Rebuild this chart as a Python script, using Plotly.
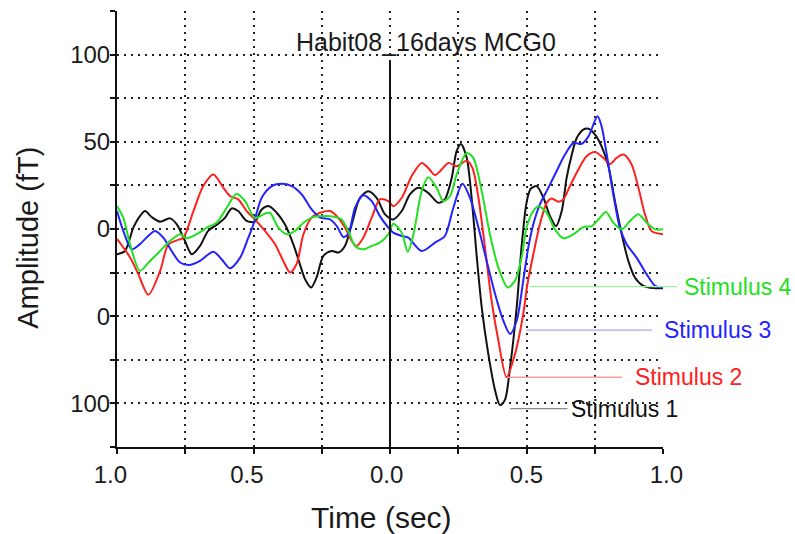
import plotly.graph_objects as go

# ---- data ----
t_s1 = [-1.0,-0.971,-0.94,-0.916,-0.897,-0.873,-0.842,-0.806,-0.781,-0.751,-0.726,-0.696,-0.666,-0.629,-0.604,-0.58,-0.556,-0.525,-0.495,-0.47,-0.443,-0.415,-0.385,-0.354,-0.33,-0.311,-0.289,-0.269,-0.244,-0.214,-0.189,-0.165,-0.14,-0.11,-0.079,-0.049,-0.018,0.012,0.043,0.073,0.104,0.14,0.177,0.201,0.226,0.244,0.26,0.281,0.299,0.317,0.336,0.36,0.385,0.403,0.421,0.44,0.464,0.482,0.5,0.515,0.537,0.562,0.586,0.608,0.629,0.647,0.666,0.684,0.708,0.727,0.751,0.775,0.8,0.824,0.849,0.873,0.897,0.928,0.965,1.0]
v_s1 = [-14.5,-12.6,0.8,7.4,10.3,6.9,4.2,6.1,2.7,-6.9,-14.5,-9.7,-1.1,3,6.5,11.8,10.3,4.6,4.2,11.2,13.1,9.3,2.7,-8.8,-20.2,-28.8,-33.5,-27.8,-15.4,-12.6,-13.5,-9.7,2.7,17.9,21.7,17.9,8.4,5.5,10.3,19.8,23.6,20.7,15,17,29.3,44.6,48.8,40.8,17.9,-14.5,-45,-71.6,-92.6,-101,-98,-79,-45,-10,15,23,24.6,17.9,7.4,1.7,10.3,29.3,42.7,52.2,57,57.5,54.1,47.4,36,16,-3,-18.3,-27.8,-32.6,-33.9,-34]

t_s2 = [-1.0,-0.952,-0.922,-0.885,-0.842,-0.812,-0.781,-0.757,-0.72,-0.684,-0.647,-0.61,-0.586,-0.556,-0.525,-0.495,-0.458,-0.421,-0.391,-0.366,-0.342,-0.317,-0.287,-0.256,-0.22,-0.195,-0.165,-0.14,-0.122,-0.098,-0.067,-0.037,-0.006,0.012,0.043,0.079,0.116,0.14,0.165,0.189,0.214,0.244,0.281,0.302,0.324,0.348,0.372,0.397,0.427,0.458,0.488,0.503,0.525,0.549,0.574,0.592,0.617,0.635,0.659,0.69,0.72,0.751,0.781,0.806,0.83,0.855,0.885,0.91,0.934,0.958,1.0]
v_s2 = [-5.7,-16.4,-25.9,-37.7,-24,-8.8,-6.5,-5,10.3,24.6,31.2,23.6,18.9,17,10.3,5.5,-1.1,-8.7,-18.3,-25,-20,-3,6.5,9.3,10.3,7.4,0.8,-6.9,-9.7,-5,6.5,17,16,13.1,17.9,30.3,37.9,35,30.9,34.1,37.9,36,39.2,35,17.9,-10.7,-41,-64,-85,-71.6,-48.8,-32,-14.5,2.7,15,17.5,15.6,17,24.6,34.1,41.7,44.2,40.8,37.3,40.8,42.7,37,23.6,8.4,-1.1,-3]

t_s3 = [-1.0,-0.977,-0.946,-0.916,-0.861,-0.83,-0.8,-0.769,-0.733,-0.696,-0.647,-0.617,-0.586,-0.549,-0.519,-0.5,-0.47,-0.433,-0.397,-0.36,-0.323,-0.287,-0.256,-0.22,-0.195,-0.171,-0.153,-0.128,-0.098,-0.067,-0.037,-0.006,0.012,0.043,0.067,0.116,0.165,0.201,0.232,0.265,0.293,0.324,0.348,0.385,0.415,0.44,0.464,0.488,0.505,0.525,0.549,0.58,0.61,0.641,0.672,0.702,0.727,0.76,0.775,0.794,0.818,0.842,0.867,0.903,0.94,0.971,1.0]
v_s3 = [10.3,-1.1,-11.6,-8.7,-1.1,-5,-12.6,-19.2,-20.6,-18.3,-13,-17.3,-22.5,-16.4,-5,2.7,17.9,24.6,25.9,24.6,19.8,11.2,6.5,5.5,1.7,-4.6,-3,12.2,19.4,16,7.4,0.8,-2.1,-4,-5,-12.6,-7.8,-4,12.2,25.9,17.9,0.8,-14.5,-37.3,-52.6,-60.2,-52.6,-29.7,-12,2.7,14.1,23.6,33.1,42.7,49.3,48.8,53.1,64.6,58.9,42.7,19.8,0.8,-8.8,-16.4,-25.9,-32.6,-33.5]

t_s4 = [-1.0,-0.977,-0.952,-0.916,-0.879,-0.842,-0.806,-0.769,-0.745,-0.708,-0.671,-0.635,-0.598,-0.562,-0.531,-0.495,-0.458,-0.44,-0.409,-0.378,-0.348,-0.317,-0.287,-0.25,-0.201,-0.177,-0.153,-0.128,-0.098,-0.067,-0.037,-0.006,0.012,0.043,0.065,0.086,0.116,0.14,0.171,0.195,0.22,0.244,0.281,0.305,0.336,0.366,0.397,0.431,0.458,0.482,0.5,0.525,0.543,0.574,0.604,0.635,0.672,0.708,0.739,0.769,0.791,0.818,0.849,0.879,0.91,0.94,0.971,1.0]
v_s4 = [13.1,6.5,-8.8,-24,-18.3,-12.6,-6.9,-3,-5.3,-3,0.8,3.6,12.2,20.2,16,6.3,8.8,9.3,0.8,-3,-1.1,3.6,6.5,7.4,6.9,5.5,-1.1,-9.7,-11.6,-9.7,-7.8,-3,3,-2.1,-13,-3,21.7,29.7,23.6,16,18.9,31.2,43.6,40.8,21.7,-3,-22.1,-33.5,-29.7,-16.4,0.8,10.3,13.1,9.3,-0.2,-5.3,-3,1.1,1.7,6.5,9.7,3.6,-0.2,4.6,8.4,3.6,-0.2,-0.2]

series_names = ["Stimulus 1", "Stimulus 2", "Stimulus 3", "Stimulus 4"]
series_t = [t_s1, t_s2, t_s3, t_s4]
series_v = [v_s1, v_s2, v_s3, v_s4]
series_colors = ["#111111", "#ff2020", "#2323ff", "#22e022"]
label_line_colors = ["#8a8a8a", "#ff9a9a", "#a6a6ff", "#9cf29c"]

# label line: (start time, end time, level), label text start time
label_level = [-103, -85, -58, -33]
label_line_start = [0.44, 0.43, 0.50, 0.51]
label_line_end = [0.65, 0.85, 0.96, 1.05]
label_text_x = [0.655, 0.89, 0.995, 1.07]

X_RANGE = [-1.0, 1.0]
Y_RANGE = [-125, 125]
NB = "\u00a0"
x_tickvals = [-1, -0.75, -0.5, -0.25, 0, 0.25, 0.5, 0.75, 1.0]
x_ticktext = ["1.0" + NB * 2, "", "0.5" + NB * 2, "", "0.0" + NB, "", "0.5", "", NB + "1.0"]
y_tickvals = [-125, -100, -75, -50, -25, 0, 25, 50, 75, 100, 125]
y_ticktext = ["", "100", "", "0", "", "0", "", "50", "", "100", ""]

FONT = "Liberation Sans, Arial, sans-serif"

def px_x(t):
    return (t - X_RANGE[0]) / (X_RANGE[1] - X_RANGE[0])

def px_y(v):
    return (v - Y_RANGE[0]) / (Y_RANGE[1] - Y_RANGE[0])

fig = go.Figure()
for name, tt, vv, col in zip(series_names, series_t, series_v, series_colors):
    fig.add_trace(go.Scatter(x=tt, y=vv, mode="lines", name=name,
                             line=dict(color=col, width=2, shape="spline", smoothing=0.8),
                             showlegend=False))

shapes = []
annotations = []
# vertical stimulus line at t=0
shapes.append(dict(type="line", xref="x", yref="y", x0=0, x1=0, y0=96, y1=-125,
                   line=dict(color="#111111", width=2), layer="above"))

for name, lvl, x0, x1, xt, lc, tc in zip(series_names, label_level, label_line_start,
                                          label_line_end, label_text_x, label_line_colors,
                                          series_colors):
    shapes.append(dict(type="line", xref="paper", yref="paper",
                       x0=px_x(x0), x1=px_x(x1), y0=px_y(lvl), y1=px_y(lvl),
                       line=dict(color=lc, width=1.3), layer="above"))
    annotations.append(dict(xref="paper", yref="paper", x=px_x(xt), y=px_y(lvl),
                            xanchor="left", yanchor="middle", showarrow=False,
                            text=name, font=dict(family=FONT, size=23, color=tc)))

annotations.append(dict(xref="paper", yref="paper", x=0.566, y=0.929, xanchor="center",
                        yanchor="middle", showarrow=False, text="Habit08_16days MCG0",
                        font=dict(family=FONT, size=25, color="#1a1a1a")))
annotations.append(dict(xref="paper", yref="paper", x=0.485, y=-0.162, xanchor="center",
                        yanchor="middle", showarrow=False, text="Time (sec)",
                        font=dict(family=FONT, size=30, color="#1a1a1a")))
annotations.append(dict(xref="paper", yref="paper", x=-0.163, y=0.48, xanchor="center",
                        yanchor="middle", showarrow=False, text="Amplitude (fT)",
                        textangle=-90, font=dict(family=FONT, size=29, color="#1a1a1a")))

axis_common = dict(showline=True, linecolor="#111111", linewidth=2, ticks="outside",
                   ticklen=5, tickwidth=2, tickcolor="#111111", showgrid=True,
                   gridcolor="#222222", gridwidth=1.6, griddash="2px,5px", zeroline=False,
                   mirror=False, tickfont=dict(family=FONT, size=24, color="#1a1a1a"))

fig.update_layout(
    width=795, height=534,
    margin=dict(l=117, r=132, t=11, b=87),
    paper_bgcolor="white", plot_bgcolor="white",
    xaxis=dict(range=X_RANGE, tickvals=x_tickvals, ticktext=x_ticktext, **axis_common),
    yaxis=dict(range=Y_RANGE, tickvals=y_tickvals, ticktext=y_ticktext,
               ticklabelstandoff=-5, **axis_common),
    shapes=shapes, annotations=annotations,
)

fig.write_html("out.html", config={"displayModeBar": False},
               post_script="document.body.style.margin='0';document.body.style.overflow='hidden';")
